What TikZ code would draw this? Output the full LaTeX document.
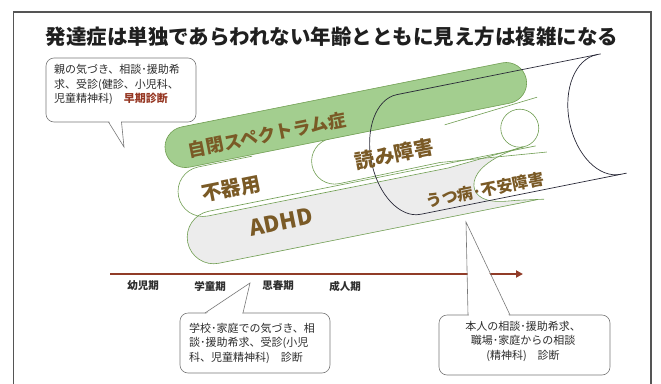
\documentclass[tikz,border=0pt]{standalone}
\usepackage{fontspec}
\setmainfont{Noto Sans CJK JP}
\usetikzlibrary{arrows.meta}
\definecolor{gfill}{RGB}{163,206,143}
\definecolor{gline}{RGB}{112,158,82}
\definecolor{afill}{RGB}{236,236,236}
\definecolor{brn}{RGB}{122,90,38}
\definecolor{tubec}{RGB}{40,40,55}
\definecolor{arrowc}{RGB}{145,60,40}
\definecolor{redc}{RGB}{150,55,35}
\definecolor{framec}{RGB}{85,85,85}
\definecolor{boxc}{RGB}{120,120,120}
\definecolor{txt}{RGB}{45,45,45}
\begin{document}
\begin{tikzpicture}[x=1pt,y=-1pt,
  capsline/.style={draw=gline, line width=0.6pt},
  tubeline/.style={draw=tubec, line width=0.7pt},
  ctext/.style={text=brn, font=\bfseries\fontsize{18}{18}\selectfont, rotate=11.3, inner sep=0pt},
  calloutbox/.style={draw=boxc, line width=0.6pt, fill=white, rounded corners=8pt, inner sep=0pt},
  callouttext/.style={text=txt, font=\fontsize{11}{14.5}\selectfont, inner sep=0pt},
  tail/.style={draw=boxc, line width=0.6pt},
  agelabel/.style={text=txt, font=\bfseries\fontsize{10.5}{12}\selectfont, inner sep=0pt}]
\useasboundingbox (0,0) rectangle (661,383);
% frame
\draw[framec, line width=1.6pt] (13.5,395) -- (13.5,12) -- (651,12) -- (651,395);
% title
\node[font=\bfseries\fontsize{20.5}{20.5}\selectfont, text=black!88, inner sep=0pt] (title) at (332,37) {発達症は単独であらわれない年齢とともに見え方は複雑になる};

\begin{scope}[shift={(346,116)}, rotate=11.3]
 % ---- fills ----
 \fill[afill] (180,66.5) -- (-153.5,66.5) arc[start angle=270, end angle=90, radius=26.5] -- (172,119.5) -- cycle;
 \fill[white] (168,21) -- (-155,21) arc[start angle=270, end angle=90, radius=25] -- (90,71) -- (168,65) -- cycle;
 \fill[white] (191,19) -- (-20,19) arc[start angle=270, end angle=90, radius=23] -- (83,64) -- (190,74.7) -- cycle;
 \fill[white] (168,65) .. controls (150,66) and (128,72) .. (118,82) .. controls (108,92) and (110,104) .. (122,110) .. controls (130,114) and (140,115) .. (150,116) -- (178,120.4) -- (190,120) -- (190,74.7) -- (168,72) -- cycle;
 % ---- strokes ----
 \draw[capsline] (180,66.5) -- (-153.5,66.5) arc[start angle=270, end angle=90, radius=26.5] -- (172,119.5);
 \draw[capsline] (-100,21) -- (-155,21) arc[start angle=270, end angle=90, radius=25] -- (90,71) -- (168,65);
 \draw[capsline] (60,19) -- (-20,19) arc[start angle=270, end angle=90, radius=23] -- (83,64) -- (190,74.7);
 \draw[capsline] (168,65) .. controls (150,66) and (128,72) .. (118,82) .. controls (108,92) and (110,104) .. (122,110) .. controls (130,114) and (140,115) .. (150,116) -- (178,120.4);
 % green capsule
 \path[capsline, fill=gfill] (-163.5,-21.5) -- (163.5,-21.5) arc[start angle=-90, end angle=90, radius=20.5] -- (-163.5,19.5) arc[start angle=90, end angle=270, radius=20.5] -- cycle;
 % twist
 \draw[gline, line width=0.6pt] (168,46) circle[radius=19];
 \draw[capsline] (95,28) -- (191,19);
 % tube
 \draw[tubeline] (262,-11) -- (54,-11) arc[start angle=270, end angle=90, x radius=38, y radius=61] -- (264,111);
 \draw[tubeline] (258,-11) arc[start angle=270, end angle=90, x radius=40, y radius=61];
 % labels
 \node[ctext] (asd) at (-81,3) {自閉スペクトラム症};
 \node[ctext, font=\bfseries\fontsize{20}{20}\selectfont] (dcd) at (-127,49) {不器用};
 \node[ctext, font=\bfseries\fontsize{20}{20}\selectfont] (ld) at (40,47) {読み障害};
 \node[ctext, font=\bfseries\fontsize{22}{22}\selectfont] (adhd) at (-84.5,91) {ADHD};
 \node[ctext, font=\bfseries\fontsize{16}{16}\selectfont] (dep) at (122,100) {うつ病･不安障害};
\end{scope}

% timeline
\coordinate (tl0) at (110,274);
\coordinate (tl1) at (523,274);
\draw[arrowc, line width=2pt, -{Triangle[length=7pt,width=7pt]}] (tl0) -- (tl1);
\node[agelabel] (a1) at (143,286) {幼児期};
\node[agelabel] (a2) at (210,286) {学童期};
\node[agelabel] (a3) at (278,286) {思春期};
\node[agelabel] (a4) at (345,286) {成人期};

% callout 1
\node[calloutbox, minimum width=150pt, minimum height=64pt] (c1) at (121,90) {};
\coordinate (t1) at (124,147);
\fill[white] (109.2,121) -- (t1) -- (120.8,121) -- cycle;
\draw[tail] (108.5,122) -- (t1) -- (121.5,122);
\node[callouttext, align=left, anchor=north west] (c1t) at (54,64.5) {親の気づき、相談･援助希\\求、受診(健診、小児科、\\児童精神科)　{\color{redc}\bfseries 早期診断}};

% callout 2
\node[calloutbox, minimum width=150pt, minimum height=60pt] (c2) at (255,343) {};
\coordinate (t2) at (250,283);
\fill[white] (206,314) -- (t2) -- (242,314) -- cycle;
\draw[tail] (205,313) -- (t2) -- (243,313);
\node[callouttext, align=left, anchor=north west] (c2t) at (189,322.5) {学校･家庭での気づき、相\\談･援助希求、受診(小児\\科、児童精神科)　診断};

% callout 3
\node[calloutbox, minimum width=171pt, minimum height=60pt] (c3) at (524.5,345) {};
\coordinate (t3) at (466,222);
\fill[white] (468.8,316) -- (t3) -- (509,316) -- cycle;
\draw[tail] (468,315) -- (t3) -- (510,315);
\node[callouttext, align=center, anchor=north] (c3t) at (523,321) {本人の相談･援助希求、\\職場･家庭からの相談\\(精神科)　診断};
\end{tikzpicture}
\end{document}
